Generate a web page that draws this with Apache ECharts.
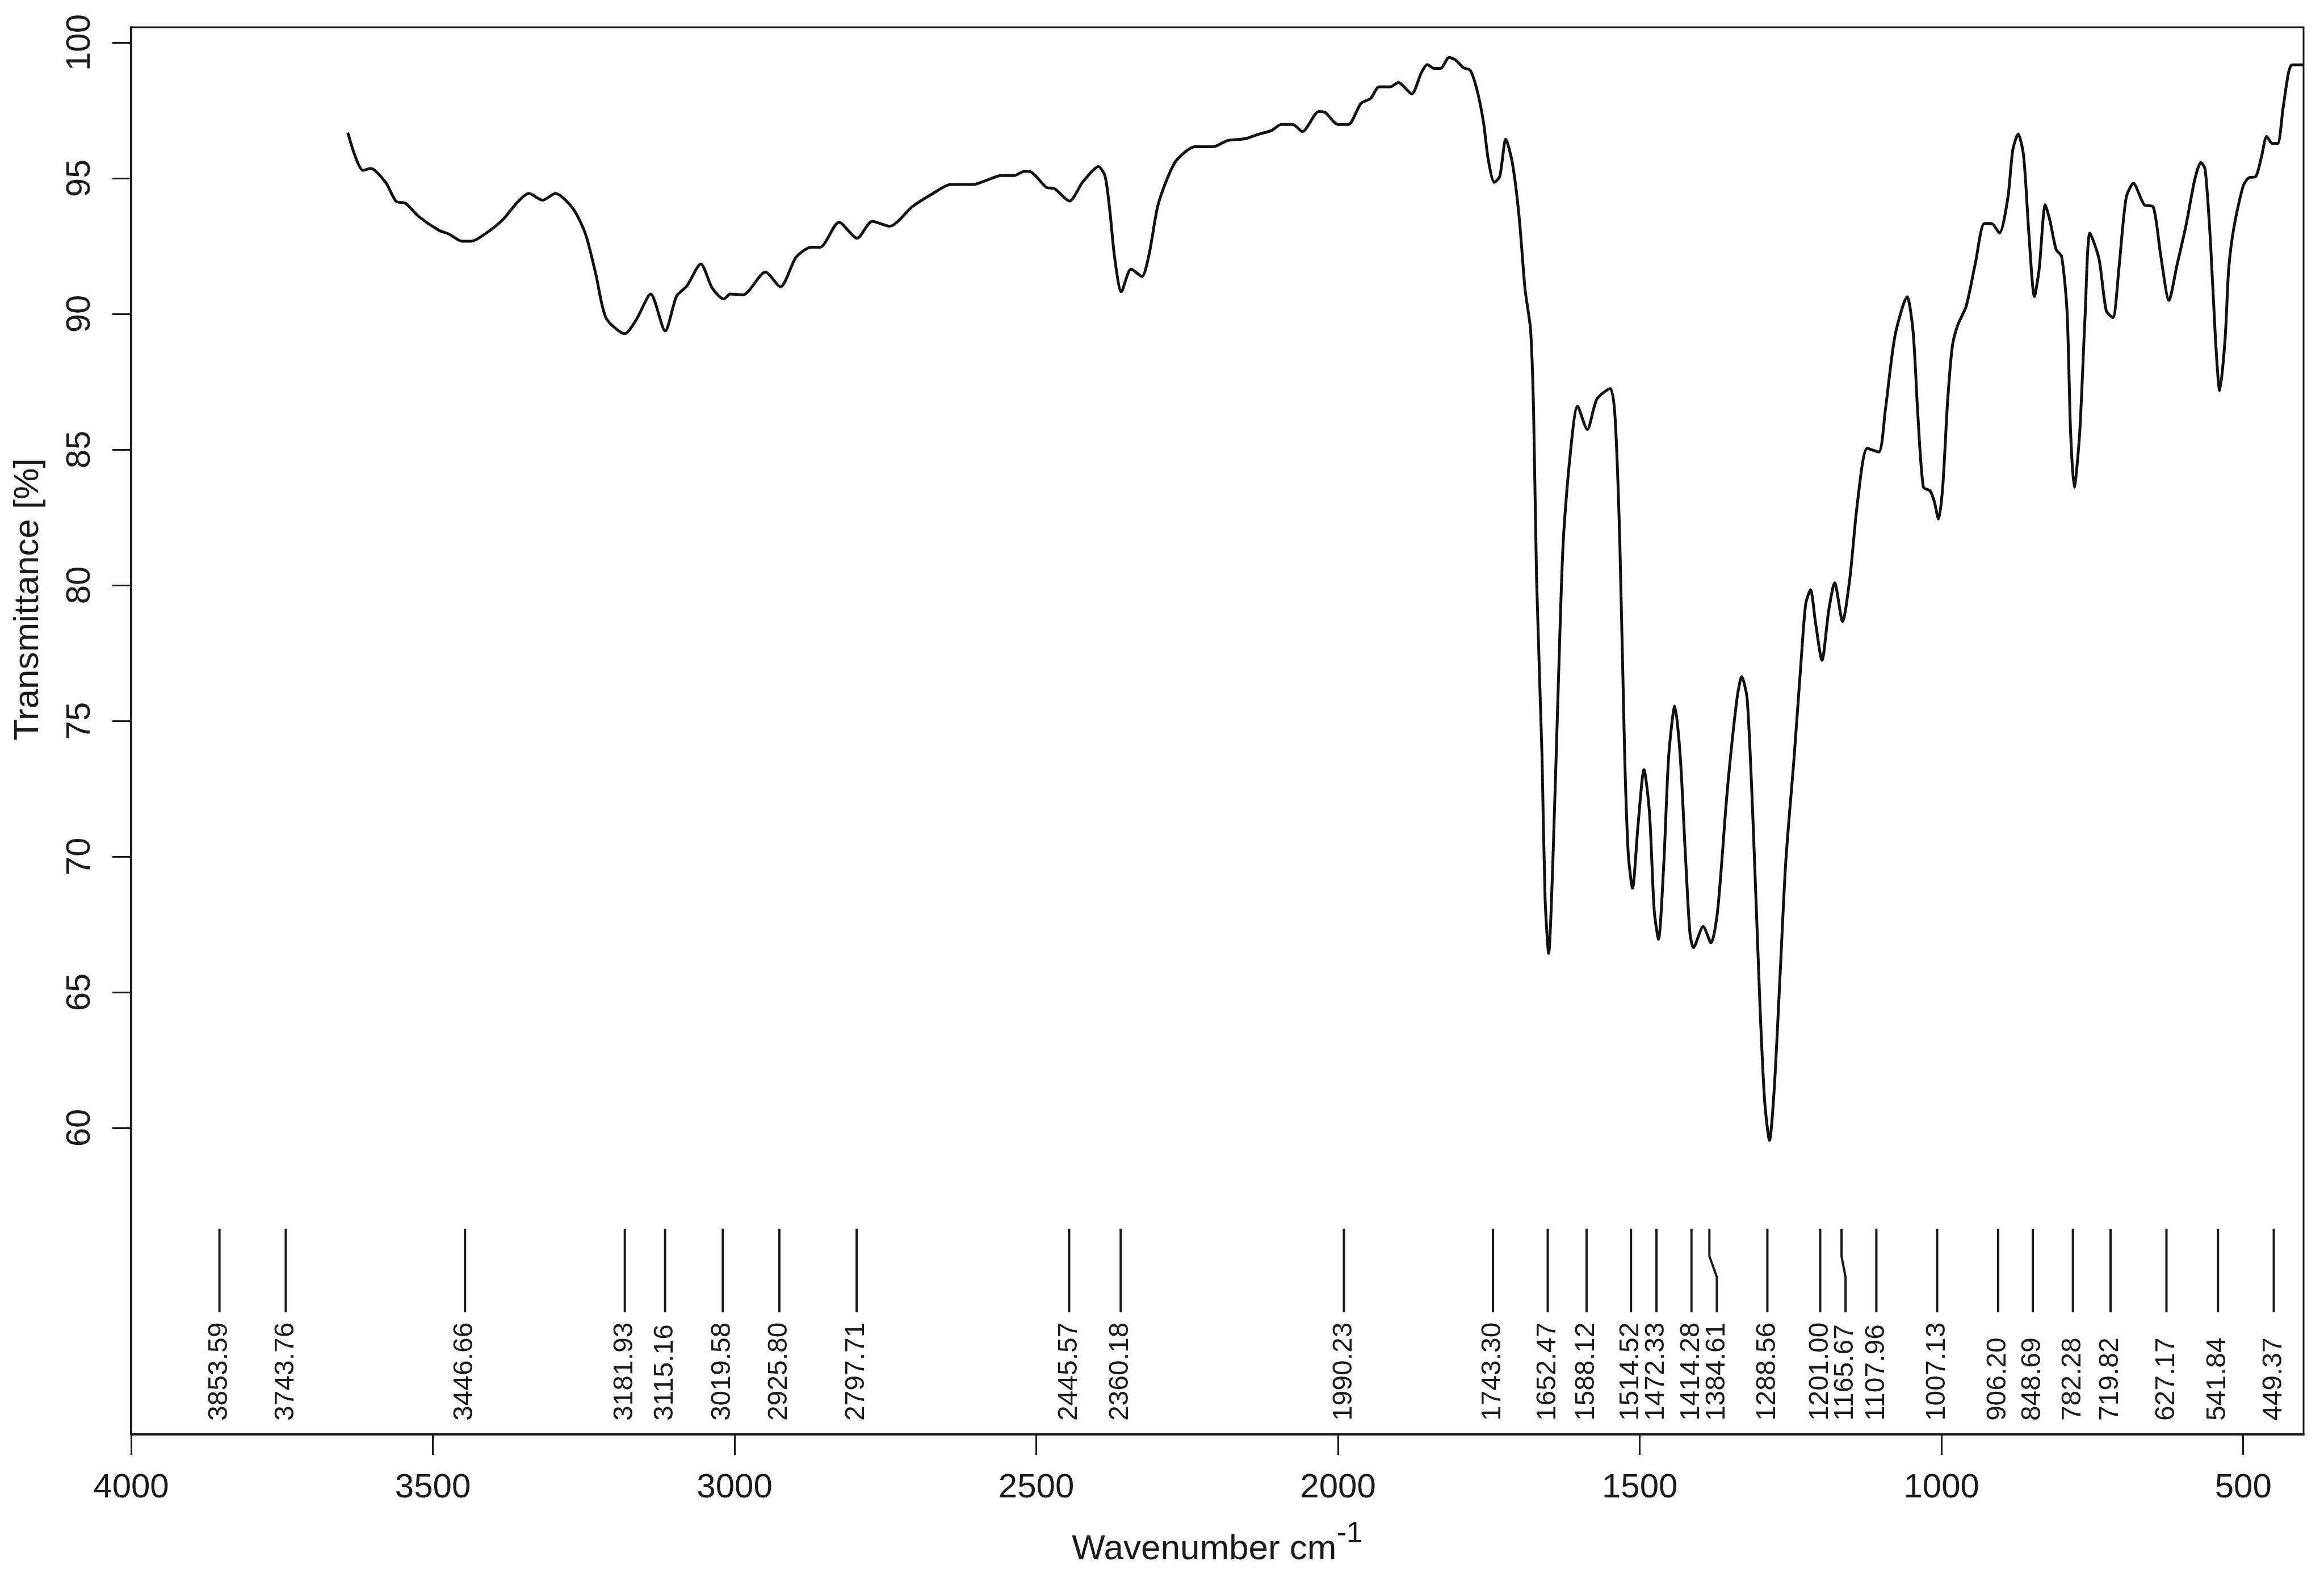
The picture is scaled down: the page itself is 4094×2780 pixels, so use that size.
<!DOCTYPE html>
<html>
<head>
<meta charset="utf-8">
<script src="https://cdn.jsdelivr.net/npm/echarts@6/dist/echarts.min.js"></script>
<style>
html,body{margin:0;padding:0;background:#fff;}
#chart{width:4094px;height:2780px;}
</style>
</head>
<body>
<div id="chart"></div>
<script>
// ---- data ----
const wavenumbers = [
3641,3616,3603,3578,3561,3545,3524,3490,3473,3452,3436,3414,3385,3360,3341,3318,3297,3268,3247,3230,
3213,3182,3163,3139,3115,3096,3079,3056,3037,3018,3007,2986,2949,2924,2898,2873,2858,2827,2797,2772,
2743,2705,2671,2642,2604,2583,2558,2537,2520,2512,2483,2470,2445,2423,2397,2386,2378,2370,2359,2343,
2325,2313,2299,2283,2267,2237,2207,2183,2153,2132,2110,2094,2075,2059,2032,2021,2000,1983,1962,1946,
1932,1913,1900,1878,1862,1852,1841,1830,1816,1806,1792,1781,1770,1759,1751,1741,1732,1722,1711,1700,
1690,1681,1676,1671,1662,1657,1651,1644,1635,1627,1616,1603,1587,1571,1549,1541,1533,1525,1519,1512,
1503,1493,1484,1476,1469,1460,1452,1442,1433,1425,1417,1411,1395,1382,1371,1355,1339,1331,1322,1312,
1301,1293,1285,1277,1268,1258,1244,1233,1225,1217,1209,1198,1187,1177,1164,1152,1139,1123,1104,1093,
1077,1057,1047,1039,1030,1019,1012,1005,998,990,982,973,959,944,929,917,904,890,882,873,
864,855,846,838,828,820,810,801,792,786,780,771,762,754,739,727,716,706,694,682,
664,649,637,623,610,595,580,570,563,554,546,539,530,524,515,500,491,479,470,461,
452,443,434,425,419,400
];
const transmittance = [
96.68,95.29,95.36,94.84,94.15,94.07,93.60,93.08,92.94,92.68,92.68,92.94,93.45,94.11,94.44,94.19,94.44,93.89,92.94,91.47,
89.85,89.27,89.78,90.73,89.37,90.66,91.03,91.84,90.95,90.55,90.73,90.70,91.54,91.00,92.09,92.46,92.46,93.38,92.79,93.41,
93.23,93.96,94.44,94.77,94.77,94.92,95.10,95.10,95.25,95.25,94.66,94.62,94.16,94.86,95.43,95.07,93.77,92.04,90.82,91.65,
91.38,92.21,93.95,94.99,95.68,96.16,96.16,96.39,96.46,96.62,96.76,96.98,96.98,96.72,97.46,97.42,96.98,96.98,97.76,97.94,
98.37,98.37,98.53,98.11,98.89,99.19,99.05,99.05,99.45,99.37,99.07,98.98,98.28,97.07,95.68,94.85,95.07,96.44,95.55,93.60,
90.89,89.43,86.47,80.23,73.72,68.52,66.43,69.82,76.31,81.53,84.65,86.60,85.74,86.86,87.25,86.21,81.53,73.72,70.08,68.83,
71.12,73.20,71.64,68.00,66.95,69.82,73.72,75.54,73.72,70.34,67.21,66.64,67.42,66.82,68.00,72.42,75.80,76.63,75.80,71.12,
64.61,60.97,59.54,61.49,65.39,69.82,73.72,77.10,79.31,79.83,78.66,77.23,79.05,80.09,78.66,80.23,83.09,85.04,84.91,86.47,
89.20,90.63,89.33,86.21,83.61,83.48,83.09,82.44,83.61,86.73,88.81,89.59,90.29,91.85,93.33,93.33,92.98,94.28,96.02,96.63,
95.84,92.90,90.64,91.68,94.02,93.41,92.37,92.12,90.12,85.61,83.61,85.61,89.95,92.98,92.03,90.12,89.86,91.68,94.28,94.81,
94.02,93.94,92.20,90.50,91.77,93.24,94.98,95.58,95.32,92.55,89.08,87.17,89.08,91.68,93.24,94.72,95.01,95.07,95.76,96.54,
96.28,96.28,97.58,98.88,99.18,99.18
];
const peakWavenumbers = [3853.59,3743.76,3446.66,3181.93,3115.16,3019.58,2925.80,2797.71,2445.57,2360.18,
  1990.23,1743.30,1652.47,1588.12,1514.52,1472.33,1414.28,1384.61,1288.56,1201.00,1165.67,1107.96,
  1007.13,906.20,848.69,782.28,719.82,627.17,541.84,449.37];
const peakLabels = ['3853.59','3743.76','3446.66','3181.93','3115.16','3019.58','2925.80','2797.71','2445.57','2360.18',
  '1990.23','1743.30','1652.47','1588.12','1514.52','1472.33','1414.28','1384.61','1288.56','1201.00','1165.67','1107.96',
  '1007.13','906.20','848.69','782.28','719.82','627.17','541.84','449.37'];
const xTicks = [500,1000,1500,2000,2500,3000,3500,4000];
const yTicks = [60,65,70,75,80,85,90,95,100];

// ---- layout constants ----
const FONT = '"Liberation Sans", Arial, Helvetica, sans-serif';
const INK = '#1a1a1a';
const MARK_TOP = 56.28, MARK_KINK_A = 55.27, MARK_KINK_B = 54.5, MARK_BOTTOM = 53.2, MARK_TEXT = 49.2;
const MIN_LABEL_SEP = 42;

// spread crowded peak labels (left to right = descending wavenumber)
const labelPos = [];
peakWavenumbers.forEach((w, i) => {
  labelPos.push(i === 0 ? w : Math.min(w, labelPos[i - 1] - MIN_LABEL_SEP));
});

const spectrum = wavenumbers.map((w, i) => [w, transmittance[i]]);
const peaks = peakWavenumbers.map((w, i) => [w, labelPos[i]]);

const chart = echarts.init(document.getElementById('chart'), null, {renderer: 'canvas'});
chart.setOption({
  animation: false,
  backgroundColor: '#ffffff',
  grid: {left: 231, right: 36, top: 48, bottom: 253, show: true, borderColor: INK, borderWidth: 3, containLabel: false},
  xAxis: {
    type: 'value', min: 400, max: 4000, inverse: true,
    axisLine: {show: true, onZero: false, lineStyle: {color: INK, width: 4}},
    axisTick: {show: true, inside: false, length: 36, customValues: xTicks, lineStyle: {color: INK, width: 3}},
    axisLabel: {show: true, customValues: xTicks, formatter: v => String(v), fontSize: 60, fontFamily: FONT, color: INK, margin: 64},
    splitLine: {show: false},
    name: '{a|Wavenumber cm}{b|-1}',
    nameLocation: 'middle', nameGap: 150,
    nameTextStyle: {
      fontFamily: FONT, color: INK,
      rich: {
        a: {fontSize: 62, fontFamily: FONT, color: INK, verticalAlign: 'bottom'},
        b: {fontSize: 52, fontFamily: FONT, color: INK, verticalAlign: 'bottom', padding: [0, 0, 32, 0]}
      }
    }
  },
  yAxis: {
    type: 'value', min: 48.70, max: 100.565,
    axisLine: {show: true, onZero: false, lineStyle: {color: INK, width: 4}},
    axisTick: {show: true, inside: false, length: 33, customValues: yTicks, lineStyle: {color: INK, width: 3}},
    axisLabel: {show: true, customValues: yTicks, formatter: v => String(v), rotate: 90, fontSize: 60, fontFamily: FONT, color: INK, margin: 60},
    splitLine: {show: false},
    name: 'Transmittance [%]',
    nameLocation: 'middle', nameGap: 150, nameRotate: 90,
    nameTextStyle: {fontSize: 62, fontFamily: FONT, color: INK, padding: [0, 0, 0, 463]}
  },
  series: [
    {
      type: 'line', data: spectrum, showSymbol: false, smooth: 0.25,
      lineStyle: {color: '#111', width: 5}, z: 3
    },
    {
      type: 'custom', data: peaks, z: 2,
      renderItem: function (params, api) {
        const x = api.value(0), lx = api.value(1);
        const p0 = api.coord([x, MARK_TOP]);
        const p1 = api.coord([x, MARK_KINK_A]);
        const p2 = api.coord([lx, MARK_KINK_B]);
        const p3 = api.coord([lx, MARK_BOTTOM]);
        const pt = api.coord([lx, MARK_TEXT]);
        const pts = (Math.abs(x - lx) < 0.01) ? [p0, p3] : [p0, p1, p2, p3];
        return {
          type: 'group',
          children: [
            {type: 'polyline', shape: {points: pts}, style: {stroke: INK, lineWidth: 4, fill: null}},
            {type: 'text', x: pt[0], y: pt[1], rotation: Math.PI / 2,
             style: {text: peakLabels[params.dataIndex], fontSize: 48, fontFamily: FONT, fill: INK, align: 'left', verticalAlign: 'middle'}}
          ]
        };
      }
    }
  ]
});
</script>
</body>
</html>
